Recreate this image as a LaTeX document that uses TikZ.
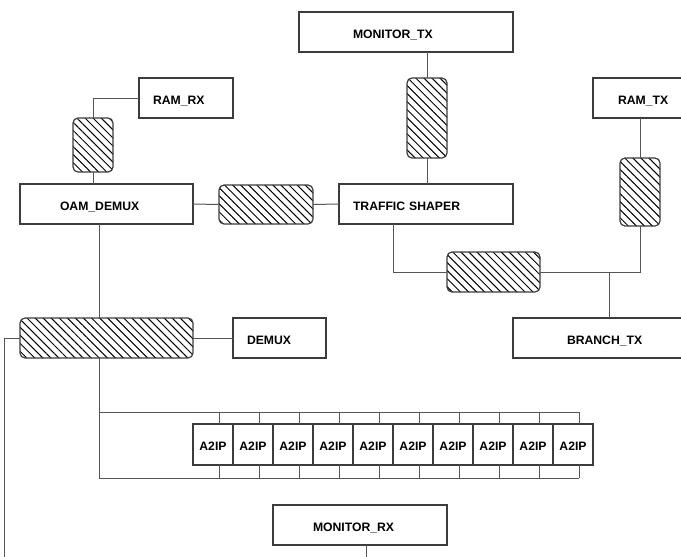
\documentclass[tikz,border=0pt]{standalone}
\usepackage{fontspec}
\setsansfont{Liberation Sans}
\usetikzlibrary{patterns.meta}
\definecolor{edge}{HTML}{3C3C3C}
\definecolor{linegray}{HTML}{555555}

\begin{document}
\begin{tikzpicture}[x=1pt, y=-1pt, font=\sffamily\bfseries\fontsize{12.2}{14}\selectfont,
    blk/.style={draw=edge, line width=1.2pt, minimum height=40pt, inner ysep=0pt, outer sep=0pt, text height=12.6pt, text depth=0pt, align=left, anchor=north west},
    cell/.style={draw=edge, line width=1.2pt, minimum width=40pt, minimum height=41pt, inner sep=0pt, outer sep=0pt, text height=12.6pt, text depth=0pt, anchor=north west},
    hatch/.style={draw=edge, line width=1.2pt, rounded corners=5pt, inner sep=0pt, outer sep=0pt, anchor=north west,
      pattern={Lines[angle=-45,distance=5.7pt,line width=1pt]}, pattern color=black},
    wire/.style={draw=linegray, line width=1pt},
  ]
% --- Frame -------------------------------------------------------------------------
\useasboundingbox (0,0) rectangle (681,557);
\clip (0,0) rectangle (681,557);

% --- Blocks --------------------------------------------------------------------------
\node[blk, text width=106pt, inner xsep=54pt] (montx) at (299,12) {MONITOR\_TX};
\node[blk, text width=66pt, inner xsep=14pt] (ramrx) at (139,78) {RAM\_RX};
\node[blk, text width=53pt, inner xsep=25pt] (ramtx) at (593,78) {RAM\_TX};
\node[blk, text width=93pt, inner xsep=40pt] (oam) at (20,184) {OAM\_DEMUX};
\node[blk, text width=146pt, inner xsep=14pt] (shaper) at (339,184) {TRAFFIC SHAPER};
\node[blk, text width=65pt, inner xsep=14pt] (demux) at (233,318) {DEMUX};
\node[blk, text width=84pt, inner xsep=54pt] (brtx) at (513,318) {BRANCH\_TX};
\node[blk, text width=94pt, inner xsep=40pt] (monrx) at (273,505) {MONITOR\_RX};

% --- Hatched links -------------------------------------------------------------------
\node[hatch, minimum width=40pt, minimum height=54pt] (hrx) at (73,118) {};
\node[hatch, minimum width=94pt, minimum height=39pt] (hoam) at (219,185) {};
\node[hatch, minimum width=40pt, minimum height=80pt] (htx) at (407,78) {};
\node[hatch, minimum width=40pt, minimum height=68pt] (hram) at (620,158) {};
\node[hatch, minimum width=93pt, minimum height=40pt] (hsh) at (447,252) {};
\node[hatch, minimum width=173pt, minimum height=40pt] (mux) at (20,318) {};

% --- A2IP row ------------------------------------------------------------------------
\foreach \i in {0,...,9}
  \node[cell] (a\i) at (193+40*\i,424) {A2IP};

\coordinate (xtrunk) at (99,0);
\coordinate (bt) at (99,412);
\coordinate (bb) at (99,478);
\coordinate (rxin) at (4,560);
\coordinate (rxout) at (366,560);

% --- Wires ---------------------------------------------------------------------------
\draw[wire] (ramrx.west) -| (hrx.north);
\draw[wire] (hrx.south) -- (hrx.south |- oam.north);
\draw[wire] (oam.east) -- (hoam.west);
\draw[wire] (hoam.east) -- (shaper.west);
\draw[wire] (htx.north) -- (htx.north |- montx.south);
\draw[wire] (htx.south) -- (htx.south |- shaper.north);
\draw[wire] (hram.north) -- (hram.north |- ramtx.south);
\draw[wire] (hsh.west) -| ([xshift=-33pt]shaper.south);
\draw[wire] (hsh.east) -| (hram.south);
\draw[wire] (brtx.north) -- (brtx.north |- hsh.east);
\draw[wire] (oam.south -| xtrunk) -- (mux.north -| xtrunk);
\draw[wire] (mux.east) -- (demux.west);
\draw[wire] (mux.west) -| (rxin);
\draw[wire] ([xshift=6pt]monrx.south) -- (rxout);

% bus round the A2IP row
\draw[wire] (bt) -- ([xshift=6pt,yshift=12pt]a9.north);
\draw[wire] (mux.south -| xtrunk) -- (bb) -- ([xshift=6pt,yshift=-13pt]a9.south);
\foreach \i in {0,...,9} {
  \draw[wire] ([xshift=6pt]a\i.north) -- ++(0,-12);
  \draw[wire] ([xshift=6pt]a\i.south) -- ++(0,13);
}
\end{tikzpicture}
\end{document}
